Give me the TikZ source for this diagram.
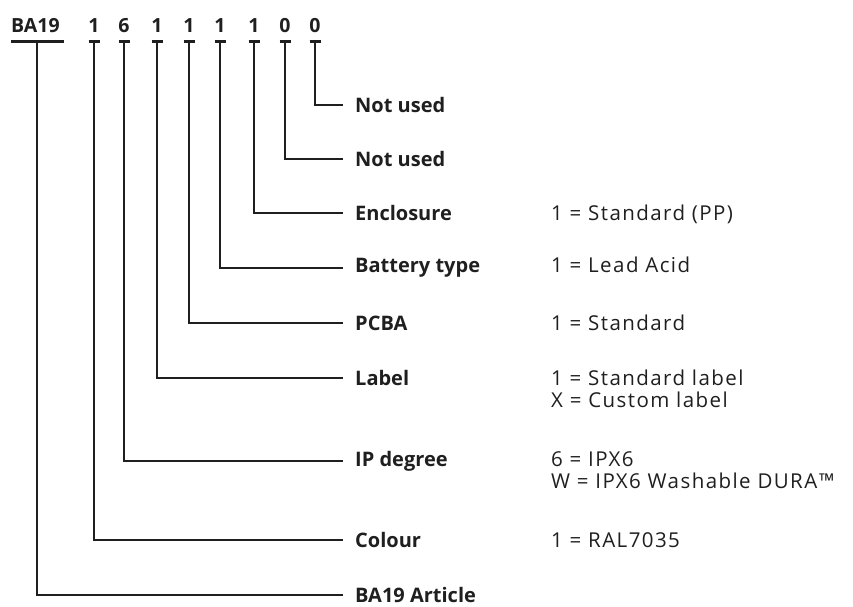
\documentclass[tikz,border=0pt]{standalone}
\usepackage{fontspec}
\setmainfont{Open Sans}
\newfontfamily\optfont[LetterSpace=7]{Open Sans}
\colorlet{ink}{black!88}

\begin{document}
\begin{tikzpicture}[x=1pt,y=-1pt]
  \tikzstyle{code}=[inner sep=0pt,anchor=base,text=ink,font=\bfseries\fontsize{19.5}{22}\selectfont]
  \tikzstyle{tick}=[draw=ink,line width=3pt]
  \tikzstyle{wire}=[draw=ink,line width=2.4pt]
  \tikzstyle{field}=[anchor=west,inner xsep=12pt,inner ysep=0pt,text=ink,font=\bfseries\fontsize{20}{22}\selectfont]
  \tikzstyle{choice}=[anchor=base west,inner sep=0pt,text=ink,font=\optfont\fontsize{20.5}{22}\selectfont]

  \useasboundingbox (0,0) rectangle (853,606);

  % header: article and the eight digits
  \node[code,anchor=base west](art) at (11,32){BA19};
  \coordinate (t0) at (37,41);
  \draw[tick] (11,41) -- (64,41);
  \foreach \d/\x [count=\i] in {1/94,6/124,1/157,1/189,1/220,1/254,0/285,0/315} {
    \node[code](c\i) at (\x,32){\d};
    \coordinate (t\i) at (\x,41);
    \draw[tick] ([xshift=-5.5pt]t\i) -- ([xshift=5.5pt]t\i);
  }

  % fields
  \node[field](f8) at (343,105){Not used};
  \node[field](f7) at (343,159){Not used};
  \node[field](f6) at (343,213){Enclosure};
  \node[field](f5) at (343,268){Battery type};
  \node[field](f4) at (343,323){PCBA};
  \node[field](f3) at (343,378){Label};
  \node[field](f2) at (343,461){IP degree};
  \node[field](f1) at (343,540){Colour};
  \node[field](f0) at (343,595){BA19 Article};

  % options
  \coordinate (col) at (551,0);
  \node[choice](v6) at (f6.base -| col){1 = Standard (PP)};
  \node[choice](v5) at (f5.base -| col){1 = Lead Acid};
  \node[choice](v4) at (f4.base -| col){1 = Standard};
  \node[choice](v3) at (f3.base -| col){\begin{tabular}[t]{@{}l@{}}1 = Standard label\\X = Custom label\end{tabular}};
  \node[choice](v2) at (f2.base -| col){\begin{tabular}[t]{@{}l@{}}6 = IPX6\\W = IPX6 Washable DURA™\end{tabular}};
  \node[choice](v1) at (f1.base -| col){1 = RAL7035};

  \path[wire]
    (t8) |- (f8.west)
    (t7) |- (f7.west)
    (t6) |- (f6.west)
    (t5) |- (f5.west)
    (t4) |- (f4.west)
    (t3) |- (f3.west)
    (t2) |- (f2.west)
    (t1) |- (f1.west)
    (t0) |- (f0.west);
\end{tikzpicture}
\end{document}
